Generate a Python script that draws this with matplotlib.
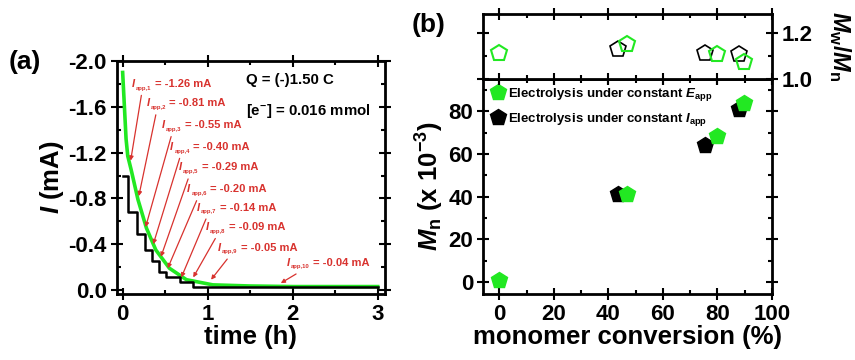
import numpy as np
import matplotlib
matplotlib.use("Agg")
import matplotlib.pyplot as plt
from matplotlib.ticker import MultipleLocator, FormatStrFormatter

plt.rcParams["font.family"] = ["Liberation Sans", "DejaVu Sans"]
plt.rcParams["font.weight"] = "bold"
plt.rcParams["axes.labelweight"] = "bold"
plt.rcParams["mathtext.fontset"] = "custom"
plt.rcParams["mathtext.rm"] = "Liberation Sans:bold"
plt.rcParams["mathtext.it"] = "Liberation Sans:italic:bold"
plt.rcParams["mathtext.bf"] = "Liberation Sans:bold"
plt.rcParams["axes.unicode_minus"] = False

# ---- panel (a): current vs time ----
green_t = [0.0, 0.04, 0.06, 0.10, 0.18, 0.28, 0.39, 0.55, 0.75, 1.06, 1.5, 2.0, 2.5, 3.0]
green_i = [-1.90, -1.32, -1.17, -1.05, -0.79, -0.54, -0.35, -0.19, -0.09, -0.045, -0.035, -0.03, -0.03, -0.03]

step_t = [0.0, 0.06, 0.167, 0.257, 0.35, 0.43, 0.51, 0.67, 0.83, 3.0]
step_i = [-1.0, -0.68, -0.49, -0.35, -0.25, -0.16, -0.117, -0.073, -0.03, -0.03]

iapp_vals = ["-1.26", "-0.81", "-0.55", "-0.40", "-0.29", "-0.20", "-0.14", "-0.09", "-0.05", "-0.04"]
label_t = [0.11, 0.28, 0.46, 0.56, 0.66, 0.76, 0.87, 0.98, 1.12, 1.93]
label_i = [-1.80, -1.63, -1.44, -1.25, -1.07, -0.88, -0.72, -0.55, -0.37, -0.24]
head_t = [0.094, 0.19, 0.27, 0.36, 0.45, 0.53, 0.69, 0.83, 1.04, 1.86]
head_i = [-1.13, -0.82, -0.55, -0.40, -0.29, -0.19, -0.11, -0.11, -0.09, -0.06]

# ---- panel (b): Mn and dispersity vs conversion ----
conv_E = [0.0, 46.8, 79.7, 89.7]
mn_E = [1.0, 41.1, 68.4, 83.8]
disp_E = [1.112, 1.152, 1.106, 1.074]

conv_I = [43.6, 75.5, 88.0]
mn_I = [41.4, 64.3, 81.2]
disp_I = [1.131, 1.114, 1.109]

red = "#d8322e"
green = "#22e822"


def style_axes(a):
    a.tick_params(which="both", top=True, right=True, width=1.5)
    a.tick_params(which="major", direction="inout", length=8, labelsize=16, pad=3)
    a.tick_params(which="minor", direction="in", length=3)
    for s in a.spines.values():
        s.set_linewidth(2)


fig = plt.figure(figsize=(8.55, 3.6), dpi=100)

ax = fig.add_axes([0.1365, 0.1833, 0.3138, 0.6472])
ax.plot(green_t, green_i, color=green, lw=2.6, zorder=2)
ax.step(step_t, step_i, where="post", color="black", lw=1.8, zorder=3)
for k in range(len(iapp_vals)):
    ax.annotate("", xy=(head_t[k], head_i[k]),
                xytext=(label_t[k] + 0.11, label_i[k] + 0.10),
                arrowprops=dict(arrowstyle="-|>", color=red, lw=0.9,
                                mutation_scale=6, shrinkA=0, shrinkB=0), zorder=4)
    ax.text(label_t[k], label_i[k], "I", style="italic", color=red,
            fontsize=8, ha="left", va="center", zorder=5)
    sub = "app,%d" % (k + 1)
    ax.annotate(sub, xy=(label_t[k], label_i[k]), xytext=(3.0, -3.0),
                textcoords="offset points", color=red, fontsize=4.2,
                ha="left", va="center", zorder=5)
    off = 16.5 if k < 9 else 19.0
    ax.annotate("= %s mA" % iapp_vals[k], xy=(label_t[k], label_i[k]), xytext=(off, 0),
                textcoords="offset points", color=red, fontsize=8,
                ha="left", va="center", zorder=5)
ax.text(1.45, -1.83, "Q = (-)1.50 C", fontsize=10.8, ha="left", va="center")
ax.text(1.45, -1.56, r"[e$^{\mathrm{-}}$] = 0.016 mmol", fontsize=10.8, ha="left", va="center")

ax.set_xlim(-0.07, 3.086)
ax.set_ylim(0.035, -2.0)
ax.xaxis.set_major_locator(MultipleLocator(1))
ax.xaxis.set_minor_locator(MultipleLocator(0.5))
ax.yaxis.set_major_locator(MultipleLocator(0.4))
ax.yaxis.set_minor_locator(MultipleLocator(0.2))
ax.yaxis.set_major_formatter(FormatStrFormatter("%.1f"))
style_axes(ax)
ax.set_xlabel("time (h)", fontsize=18.5, labelpad=0)
ax.set_ylabel(r"$\mathit{I}$ (mA)", fontsize=18.5, labelpad=2)
fig.text(0.010, 0.828, "(a)", fontsize=19, va="center")

# bottom part of (b)
bx = fig.add_axes([0.5649, 0.1833, 0.338, 0.5972])
bx.plot(conv_I, mn_I, ls="none", marker="p", ms=12, color="black", zorder=3,
        label=r"Electrolysis under constant $\mathit{I}_{\mathrm{app}}$")
bx.plot(conv_E, mn_E, ls="none", marker="p", ms=12, color=green, zorder=4,
        label=r"Electrolysis under constant $\mathit{E}_{\mathrm{app}}$")
h, l = bx.get_legend_handles_labels()
bx.legend(h[::-1], l[::-1], loc="upper left", frameon=False, fontsize=9.5,
          handletextpad=0.2, borderaxespad=0.2, labelspacing=0.6, handlelength=1.2,
          borderpad=0.3)
bx.set_xlim(-6, 100)
bx.set_ylim(-5.5, 95)
bx.xaxis.set_major_locator(MultipleLocator(20))
bx.xaxis.set_minor_locator(MultipleLocator(10))
bx.yaxis.set_major_locator(MultipleLocator(20))
bx.yaxis.set_minor_locator(MultipleLocator(10))
style_axes(bx)
bx.set_xlabel("monomer conversion (%)", fontsize=18.5, labelpad=0)
bx.set_ylabel(r"$\mathit{M}_{\mathrm{n}}$ (x 10$^{\mathrm{-3}}$)", fontsize=18.5, labelpad=2)

# top part of (b)
tx = fig.add_axes([0.5649, 0.7806, 0.338, 0.1806], sharex=bx)
tx.plot(conv_I, disp_I, ls="none", marker="p", ms=12, mfc="none", mec="black", mew=1.2)
tx.plot(conv_E, disp_E, ls="none", marker="p", ms=12, mfc="none", mec=green, mew=1.5)
tx.set_ylim(1.0, 1.28)
tx.yaxis.set_major_locator(MultipleLocator(0.2))
tx.yaxis.set_minor_locator(MultipleLocator(0.1))
tx.yaxis.set_major_formatter(FormatStrFormatter("%.1f"))
style_axes(tx)
tx.tick_params(which="both", left=True, labelbottom=False, labelleft=False,
               labelright=True)
tx.yaxis.set_label_position("right")
tx.set_ylabel(r"$\mathit{M}_{\mathrm{w}}/\mathit{M}_{\mathrm{n}}$", fontsize=17,
              rotation=270, ha="center", va="center")
tx.yaxis.set_label_coords(1.235, 0.5)
fig.text(0.481, 0.93, "(b)", fontsize=19, va="center")

fig.savefig("out.png", dpi=100)
